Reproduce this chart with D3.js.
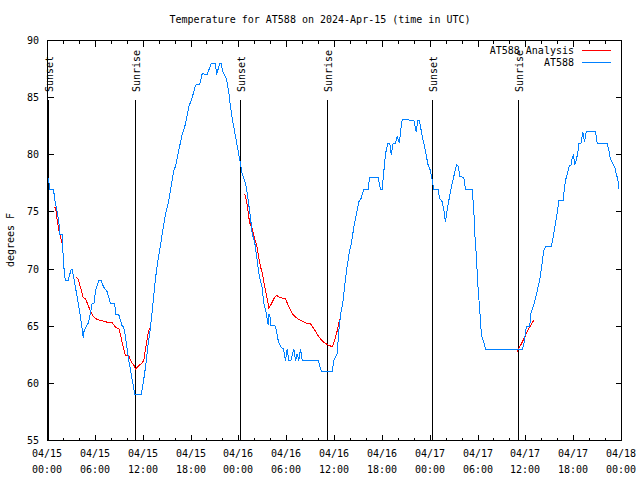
<!DOCTYPE html>
<html><head><meta charset="utf-8">
<script src="https://cdn.jsdelivr.net/npm/d3@7"></script>
<style>
body{margin:0;background:#fff}
svg{display:block}
text{font-family:"DejaVu Sans Mono","Liberation Mono",monospace;font-size:10px;fill:#000}
</style>
</head><body>
<svg id="c" width="640" height="480"></svg>
<script>
// ---------- data ----------
const title = "Temperature for AT588 on 2024-Apr-15 (time in UTC)";
const yLabel = "degrees F";
const yTicks = [55, 60, 65, 70, 75, 80, 85, 90];
const xTickHours = [0, 6, 12, 18, 24, 30, 36, 42, 48, 54, 60, 66, 72];
const xTickDates = ["04/15","04/15","04/15","04/15","04/16","04/16","04/16","04/16","04/17","04/17","04/17","04/17","04/18"];
const xTickTimes = ["00:00","06:00","12:00","18:00","00:00","06:00","12:00","18:00","00:00","06:00","12:00","18:00","00:00"];
const seriesNames = ["AT588 Analysis", "AT588"];
const sunLabels = ["Sunset","Sunrise","Sunset","Sunrise","Sunset","Sunrise"];
const sunHours = [0.17, 11.08, 24.25, 35.17, 48.33, 59.12];

// observed (hours since 04/15 00:00 UTC, deg F)
const obsHours = [0.09,0.29,0.75,0.92,1.22,1.44,1.54,1.84,1.97,2.13,2.26,2.60,2.97,3.10,3.51,3.80,4.14,4.48,4.55,4.89,5.14,5.61,5.83,6.02,6.44,6.71,7.06,7.49,7.90,8.44,8.53,8.94,9.37,9.53,9.66,9.91,10.20,10.50,10.83,10.95,11.75,12.00,12.29,12.58,12.92,13.26,13.55,13.84,14.17,14.51,14.80,15.22,15.43,15.84,16.06,16.56,16.90,17.31,17.72,18.15,18.56,19.10,19.41,20.03,20.53,21.07,21.20,21.61,21.76,22.04,22.45,22.74,22.95,23.24,23.58,23.87,24.21,24.42,24.62,24.92,25.18,25.46,25.68,26.00,26.30,26.59,26.93,27.13,27.43,27.68,27.76,27.88,28.01,28.19,28.60,28.94,29.23,29.60,29.85,30.07,30.27,30.52,30.90,31.11,31.32,31.52,31.74,31.95,33.96,34.37,35.71,35.91,36.34,36.54,36.84,37.04,37.26,37.51,37.67,37.88,38.10,38.30,38.51,38.76,39.05,39.35,39.68,40.23,40.39,41.48,41.77,41.98,42.18,42.40,42.69,42.94,43.11,43.36,43.65,43.86,44.15,44.28,44.49,45.95,46.25,46.45,46.66,47.00,47.20,47.50,47.70,48.04,48.26,48.46,49.01,49.17,49.51,49.71,49.92,50.14,50.34,50.64,50.96,51.30,51.52,51.72,52.22,52.43,53.27,53.47,53.60,53.81,53.94,54.10,54.22,54.40,54.52,54.73,54.94,59.54,59.74,60.08,60.50,60.59,60.80,61.09,61.43,61.72,61.93,62.13,62.26,62.47,63.22,63.43,63.64,63.85,64.06,64.14,64.69,64.85,65.06,65.27,65.48,65.67,65.82,65.98,66.14,66.32,66.52,66.64,66.92,67.15,67.36,67.57,68.74,68.95,70.21,70.41,70.62,70.91,71.16,71.34,71.54,71.66];
const obsTemps = [78,77,77,76,75,74,73,73,71,69.5,69,69,70,70,68.4,67.2,65.8,64,64.5,65,65.3,67,67,68.1,69,69,68.4,68,67,67,66,66,65,65,64.6,63.4,62,60.8,59.5,59,59,60,61.4,63.2,64.9,67.2,69.2,70.7,72.1,73.6,74.8,76,76.9,78.6,79,80.7,81.8,82.7,84.2,85,86.1,86.2,87.1,87,88,88,87,88,88,87.2,86.6,85.5,84.2,82.9,81.6,80.5,79.2,78.3,78,77.2,76,74.5,73.1,72.3,70.75,69.3,68.4,67,66.2,65.1,66,66,65.1,65.1,65,63.75,63.2,63,62,63,62,62,63,62,62.6,62,63,62,62,61,61,62,62.6,64.6,66.4,67,68.4,69.9,70.6,71.6,72.2,73.1,74,74.8,75.9,76.2,77,77,78,78,77,77,78.5,80.1,81,81,80,81,81,81.6,81,82,83.1,83,82,83,83,81.6,81,80,79.2,78.6,77.75,77,77,76.2,75.9,75.2,74.1,75.2,76,77.1,78.1,79.1,79,78.1,78,77,77,75.2,73.1,71,69,67.5,66.4,64.5,64,63.6,63,63,63.4,65,65,66,66.5,67.1,68.1,69,69.9,71,71.6,72,72,72.8,73.7,74.5,75.5,76,76,77.2,78,78.5,79.1,79.1,79.8,80,79.1,79.5,80.2,81,81,82,81.1,82,82,81,81,80.4,79.6,79.2,78.9,78.3,77.9,77];

// analysis (NaN marks a gap)
const anaHours = [0.79,1.00,1.22,1.42,1.63,1.84,NaN,3.51,3.80,4.14,4.48,4.77,5.06,5.39,5.73,6.23,6.65,7.28,7.69,8.12,8.53,8.94,9.16,9.50,9.78,10.20,10.50,10.83,11.04,11.45,11.88,12.08,12.38,12.63,12.79,13.01,NaN,24.75,25.05,25.34,25.68,25.97,26.30,26.51,26.72,26.93,27.13,27.35,27.56,27.76,27.97,28.39,28.69,29.23,29.85,30.27,30.69,31.11,31.74,32.36,32.99,33.40,33.83,34.24,34.66,35.09,35.71,36.04,36.34,36.63,36.79,NaN,58.92,59.24,59.54,59.83,60.08,60.37,60.71,61.05];
const anaTemps = [75.4,75.4,74.25,73.4,72.8,72.2,NaN,69.24,69.2,68.4,67.5,67.4,66.9,66.3,65.85,65.6,65.5,65.4,65.3,65.3,64.9,64.8,64.2,63.2,62.4,62.4,61.9,61.6,61.27,61.55,61.8,62,63.4,64.4,64.8,64.8,NaN,76.6,75.6,74.1,73.5,72.7,71.9,71.0,70.2,69.7,68.9,68.1,67.4,66.6,66.8,67.4,67.7,67.5,67.4,66.7,66.1,65.8,65.5,65.3,65.2,64.8,64.3,63.9,63.6,63.4,63.2,63.8,64.6,65.6,65.75,NaN,62.8,63.2,63.6,64.0,64.4,64.8,65.2,65.6];

// ---------- layout ----------
const L = 47, R = 621, T = 40, B = 440;
const svg = d3.select("#c");
const g = svg.append("g").attr("transform", "translate(0.5,0.5)");
const x = d3.scaleLinear().domain([0, 72]).range([L, R]);
const y = d3.scaleLinear().domain([55, 90]).range([B, T]);

// title
svg.append("text").attr("x", 320).attr("y", 23).attr("text-anchor", "middle").text(title);
// y label
svg.append("text").attr("transform", "translate(14,240) rotate(-90)").attr("text-anchor", "middle").text(yLabel);

// ticks (inward, mirrored)
const minorHours = d3.range(0, 73, 2).filter(h => h % 6 !== 0);
const tickG = g.append("g").attr("stroke", "#000").attr("shape-rendering", "crispEdges");
xTickHours.forEach(h => {
  const xx = Math.round(x(h));
  tickG.append("line").attr("x1", xx).attr("x2", xx).attr("y1", B).attr("y2", B - 6);
  tickG.append("line").attr("x1", xx).attr("x2", xx).attr("y1", T).attr("y2", T + 6);
});
minorHours.forEach(h => {
  const xx = Math.round(x(h));
  tickG.append("line").attr("x1", xx).attr("x2", xx).attr("y1", B).attr("y2", B - 3);
  tickG.append("line").attr("x1", xx).attr("x2", xx).attr("y1", T).attr("y2", T + 3);
});
yTicks.forEach(v => {
  const yy = Math.round(y(v));
  tickG.append("line").attr("x1", L).attr("x2", L + 6).attr("y1", yy).attr("y2", yy);
  tickG.append("line").attr("x1", R).attr("x2", R - 6).attr("y1", yy).attr("y2", yy);
});

// tick labels
yTicks.forEach(v => {
  svg.append("text").attr("x", 39).attr("y", Math.round(y(v)) + 4).attr("text-anchor", "end").text(v);
});
xTickHours.forEach((h, i) => {
  const xx = Math.round(x(h));
  svg.append("text").attr("x", xx).attr("y", 457).attr("text-anchor", "middle").text(xTickDates[i]);
  svg.append("text").attr("x", xx).attr("y", 473).attr("text-anchor", "middle").text(xTickTimes[i]);
});

// sunrise / sunset markers
sunHours.forEach((h, i) => {
  const xx = Math.round(x(h));
  g.append("line").attr("x1", xx).attr("x2", xx).attr("y1", 99).attr("y2", B)
    .attr("stroke", "#000").attr("shape-rendering", "crispEdges");
  svg.append("text").attr("transform", `translate(${xx + 5},92) rotate(-90)`)
    .attr("text-anchor", "start").text(sunLabels[i]);
});

// series
const line = d3.line().defined(d => !isNaN(d[0]) && !isNaN(d[1])).x(d => x(d[0])).y(d => y(d[1]));
const anaData = anaHours.map((h, i) => [h, anaTemps[i]]);
const obsData = obsHours.map((h, i) => [h, obsTemps[i]]);
g.append("path").datum(anaData).attr("d", line).attr("fill", "none").attr("stroke", "#ff0000")
  .attr("stroke-width", 1).attr("shape-rendering", "crispEdges");
g.append("path").datum(obsData).attr("d", line).attr("fill", "none").attr("stroke", "#0080ff")
  .attr("stroke-width", 1).attr("shape-rendering", "crispEdges");

// frame
g.append("rect").attr("x", L).attr("y", T).attr("width", R - L).attr("height", B - T)
  .attr("fill", "none").attr("stroke", "#000").attr("shape-rendering", "crispEdges");

// legend
const legColors = ["#ff0000", "#0080ff"];
seriesNames.forEach((n, i) => {
  const ly = 50 + i * 12;
  svg.append("text").attr("x", 574).attr("y", ly + 4).attr("text-anchor", "end").text(n);
  g.append("line").attr("x1", 581).attr("x2", 610).attr("y1", ly).attr("y2", ly)
    .attr("stroke", legColors[i]).attr("shape-rendering", "crispEdges");
});
</script>
</body></html>
